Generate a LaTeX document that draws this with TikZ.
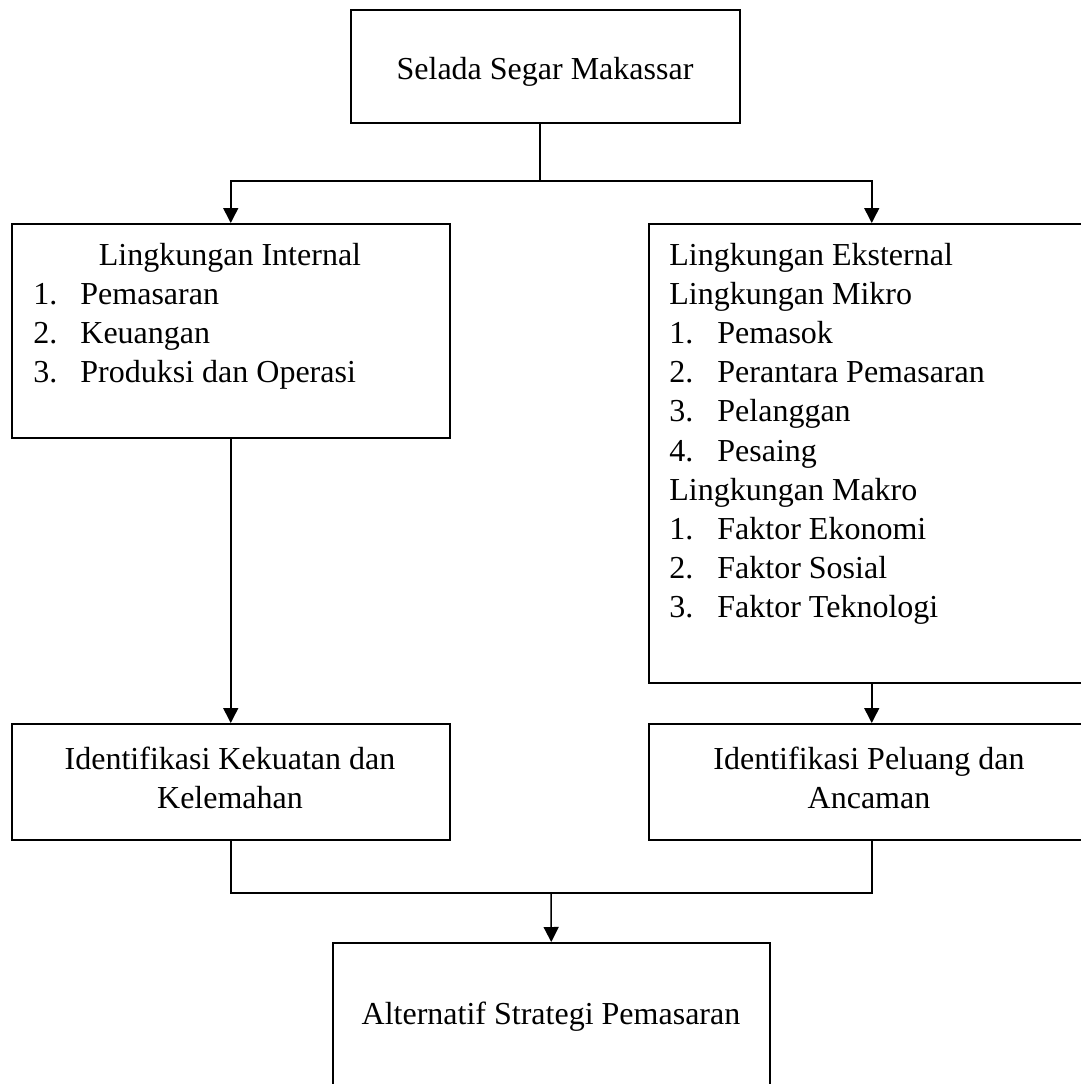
\documentclass[tikz,border=0pt]{standalone}
\usepackage{fontspec}
\setmainfont{Liberation Serif}
\usetikzlibrary{arrows.meta,positioning}

\tikzset{
  box/.style={draw, line width=0.75pt, rectangle, anchor=north west, inner sep=0pt},
  txt/.style={inner sep=0pt, font=\fontsize{16}{19.6}\selectfont},
  arrow/.style={line width=0.75pt, -{Triangle[length=7.5pt,width=7.5pt]}},
  conn/.style={line width=0.75pt}
}

\begin{document}
\begin{tikzpicture}[x=0.5pt,y=-0.5pt]
		\useasboundingbox (0,0) rectangle (1081,1084);
		\clip (0,0) rectangle (1081,1084);
		% boxes
		\node[box, minimum width=194.5pt, minimum height=56.5pt] (selada) at (350,9) {};
		\node[box, minimum width=219pt, minimum height=107pt] (intern) at (11,223) {};
		\node[box, minimum width=223pt, minimum height=229.5pt] (extern) at (648,223) {};
		\node[box, minimum width=219pt, minimum height=58pt] (identKK) at (11,723) {};
		\node[box, minimum width=223pt, minimum height=58pt] (identPA) at (648,723) {};
		\node[box, minimum width=218.5pt, minimum height=79pt] (strategi) at (332,942) {};
		% texts
		\node[txt, anchor=base] (seladaTxt) at (545,79) {Selada Segar Makassar};
		\node[txt, anchor=base] (internTxt) at (230,265) {Lingkungan Internal};
		\foreach \t [count=\i] in {Pemasaran, Keuangan, Produksi dan Operasi} {
			\node[txt, anchor=base west] (internNo\i) at (33,{265+39.3*\i}) {\i.};
			\node[txt, anchor=base west] (internItem\i) at (80,{265+39.3*\i}) {\t};
		}
		\node[txt, anchor=base west] (externTxt) at (669,265) {Lingkungan Eksternal};
		\node[txt, anchor=base west] (mikroTxt) at (669,304.2) {Lingkungan Mikro};
		\foreach \t [count=\i] in {Pemasok, Perantara Pemasaran, Pelanggan, Pesaing} {
			\node[txt, anchor=base west] (mikroNo\i) at (669,{304.2+39.2*\i}) {\i.};
			\node[txt, anchor=base west] (mikroItem\i) at (717,{304.2+39.2*\i}) {\t};
		}
		\node[txt, anchor=base west] (makroTxt) at (669,500.2) {Lingkungan Makro};
		\foreach \t [count=\i] in {Faktor Ekonomi, Faktor Sosial, Faktor Teknologi} {
			\node[txt, anchor=base west] (makroNo\i) at (669,{500.2+39.2*\i}) {\i.};
			\node[txt, anchor=base west] (makroItem\i) at (717,{500.2+39.2*\i}) {\t};
		}
		\node[txt, anchor=base] (kkTxtA) at (230,769) {Identifikasi Kekuatan dan};
		\node[txt, anchor=base] (kkTxtB) at (230,808) {Kelemahan};
		\node[txt, anchor=base] (paTxtA) at (869,769) {Identifikasi Peluang dan};
		\node[txt, anchor=base] (paTxtB) at (869,808) {Ancaman};
		\node[txt, anchor=base] (strategiTxt) at (551,1024) {Alternatif Strategi Pemasaran};
		% connectors
		\coordinate (split) at (540,181);
		\coordinate (merge) at (551,893);
		\draw[conn] (split |- selada.south) -- (split);
		\draw[arrow] (split) -| (intern.north);
		\draw[arrow] (split) -| (extern.north);
		\draw[arrow] (intern.south) -- (identKK.north);
		\draw[arrow] (extern.south) -- (identPA.north);
		\draw[conn] (identKK.south) |- (merge) -| (identPA.south);
		\draw[arrow] (merge) -- (strategi.north);
\end{tikzpicture}
\end{document}
